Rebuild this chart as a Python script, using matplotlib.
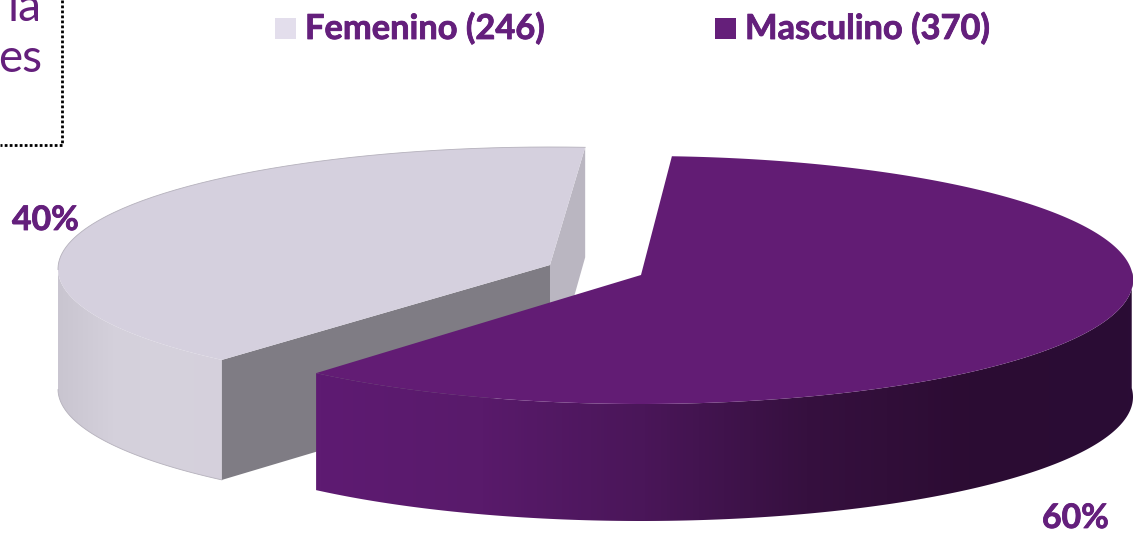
#!/usr/bin/env python

# Sexo: 3D style exploded pie, Femenino / Masculino

import numpy as np
import matplotlib

matplotlib.use("Agg")
import matplotlib.pyplot as plt
import matplotlib.patheffects as pe
from matplotlib.colors import LinearSegmentedColormap
from matplotlib.patches import Polygon, Rectangle

categories = ["Femenino", "Masculino"]
counts = [246, 370]
share_values = [40, 60]
corner_text = ["ia", "es"]

plt.rcParams["font.family"] = ["Lato", "DejaVu Sans"]

purple = "#641f7c"
heavier = [pe.withStroke(linewidth=0.6, foreground=purple)]

fig = plt.figure(figsize=(11.34, 5.34), dpi=100, facecolor="white")
ax = fig.add_axes([0, 0, 1, 1])
ax.set_xlim(0, 1134)
ax.set_ylim(534, 0)
ax.set_axis_off()

# Pie geometry, pixels on the page
rx = 492
depth = 117
f_depth = 120
stretch = [0.988, 1.008]  # the tilt changes the apparent slice angles a little
sweep = [3.6 * share_values[i] * stretch[i] for i in range(2)]


def rim(cx, cy, ry, t0, t1, n=200):
    # Points along the ellipse, angles in degrees, y down the page
    t = np.radians(np.linspace(t0, t1, n))
    return np.column_stack([cx + rx * np.cos(t), cy - ry * np.sin(t)])


def shaded_wall(points, colours, zorder):
    # Gradient from left to right, clipped to the wall outline
    wall = Polygon(points, closed=True, facecolor="none", edgecolor="none", zorder=zorder)
    ax.add_patch(wall)
    cmap = LinearSegmentedColormap.from_list("wall", colours)
    x0, x1 = points[:, 0].min(), points[:, 0].max()
    y0, y1 = points[:, 1].min(), points[:, 1].max()
    img = ax.imshow(
        np.linspace(0, 1, 256).reshape(1, -1),
        cmap=cmap,
        extent=[x0, x1, y1, y0],
        aspect="auto",
        zorder=zorder,
        interpolation="bilinear",
    )
    img.set_clip_path(wall)
    ax.set_xlim(0, 1134)
    ax.set_ylim(534, 0)


# Femenino slice, back part
f_apex = np.array([550, 265])
f_rim = rim(550, 269, 122, 85.9, 85.9 + sweep[0])
f_start = f_rim[0]
f_end = f_rim[-1]

# Light cut wall at the back
ax.add_patch(
    Polygon(
        [f_apex, f_start, f_start + [0, 110], f_apex + [0, depth]],
        closed=True,
        facecolor="#bab6c1",
        edgecolor="none",
        zorder=1,
    )
)
# Outer wall, only the part facing the viewer
f_front = f_rim[np.argmin(f_rim[:, 0]):]
f_bottom = f_front + [0, f_depth]
f_wall = np.vstack([f_front, f_bottom[::-1]])
shaded_wall(f_wall, ["#c9c5d0", "#d4d0db", "#d6d2dd", "#d5d0dc"], 2)
ax.plot(f_bottom[:, 0], f_bottom[:, 1], color="#b5b1bc", linewidth=0.6, zorder=2)
# Dark cut wall
ax.add_patch(
    Polygon(
        [f_end, f_apex, f_apex + [0, depth], f_end + [0, f_depth]],
        closed=True,
        facecolor="#7f7c84",
        edgecolor="none",
        zorder=3,
    )
)
# Top face, the edge only shows along the back
ax.add_patch(
    Polygon(
        np.vstack([f_apex, f_rim]),
        closed=True,
        facecolor="#d5d0de",
        edgecolor="none",
        zorder=4,
    )
)
f_back = f_rim[: np.argmin(f_rim[:, 0]) + 1]
ax.plot(f_back[:, 0], f_back[:, 1], color="#b5b1bc", linewidth=0.6, zorder=4)

# Masculino slice, in front
my = 280
m_apex = np.array([641, 275])
m_rim = rim(641, my, 124, 86.4, 86.4 - sweep[1], 300)
m_front = m_rim[m_rim[:, 1] >= my - 10]
m_front = m_front[m_front[:, 0] >= m_rim[-1, 0]]
m_wall = np.vstack([m_front, (m_front + [0, depth])[::-1]])
shaded_wall(
    m_wall,
    ["#5e1b72", "#591a6b", "#4a1659", "#36103f", "#2c0c33", "#2a0c35"],
    5,
)
ax.add_patch(
    Polygon(
        np.vstack([m_apex, m_rim]),
        closed=True,
        facecolor="#621c74",
        edgecolor="none",
        zorder=6,
    )
)

# Legend
legend_colours = ["#e3deec", "#651f7a"]
legend_x = [275, 715]
text_x = [305, 745]
for i in range(2):
    ax.add_patch(
        Rectangle((legend_x[i], 18), 21, 21, facecolor=legend_colours[i], edgecolor="none", zorder=7)
    )
    ax.text(
        text_x[i],
        39,
        "%s (%d)" % (categories[i], counts[i]),
        color=purple,
        fontsize=24.8,
        fontweight="bold",
        ha="left",
        va="baseline",
        zorder=8,
        path_effects=heavier,
    )

# Share labels
label_x = [12, 1042]
label_y = [230, 528]
for i in range(2):
    ax.text(
        label_x[i],
        label_y[i],
        "%d%%" % share_values[i],
        color=purple,
        fontsize=24.3,
        fontweight="bold",
        va="baseline",
        path_effects=heavier,
    )

# Cut off text box in the corner
ax.text(41, 21, corner_text[0], color=purple, fontsize=33, ha="right", va="baseline")
ax.text(42, 72, corner_text[1], color=purple, fontsize=33, ha="right", va="baseline")
ax.plot(
    [62, 62, 0],
    [0, 145, 145],
    color="black",
    linewidth=2,
    linestyle=(0, (1, 0.8)),
    dash_capstyle="butt",
    zorder=8,
)

fig.savefig("out.png", dpi=100)
